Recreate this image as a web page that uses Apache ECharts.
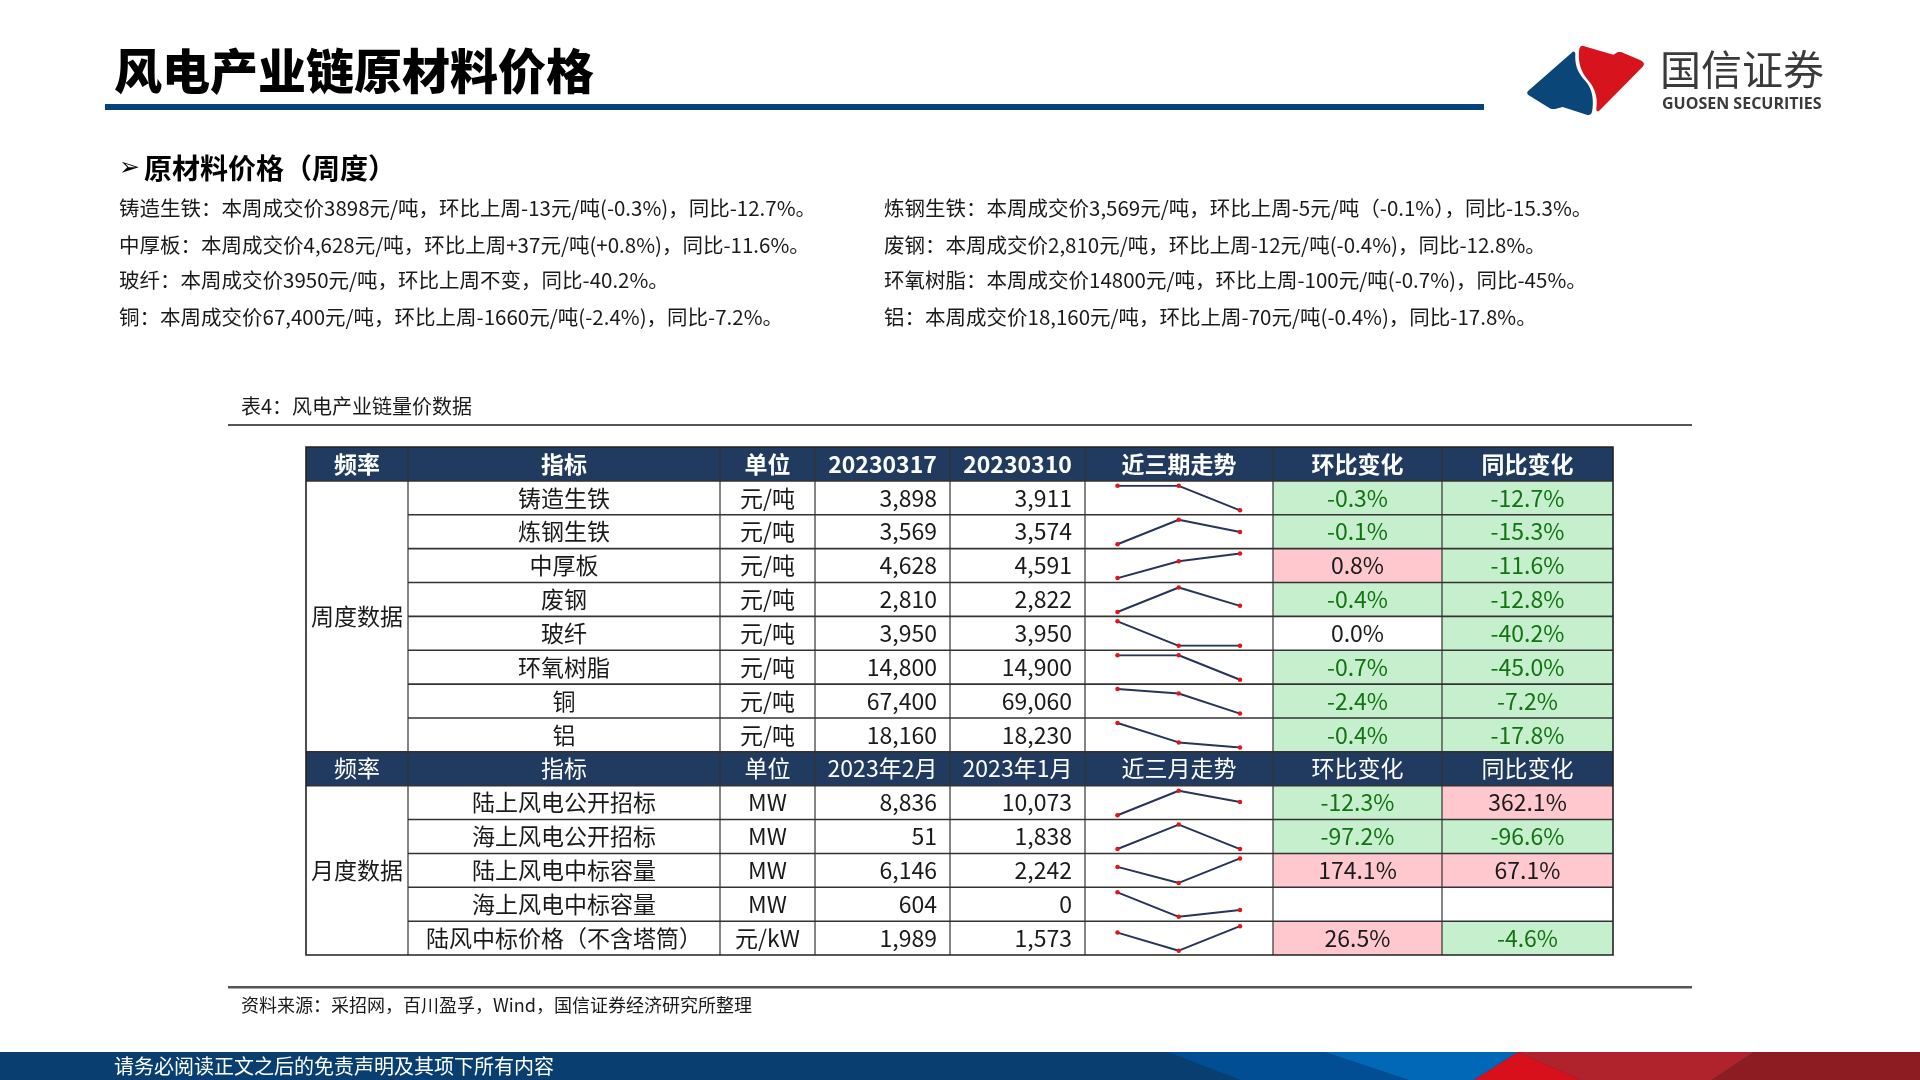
<!DOCTYPE html>
<html><head><meta charset="utf-8">
<script src="https://cdn.jsdelivr.net/npm/echarts@6/dist/echarts.min.js"></script>
<style>html,body{margin:0;padding:0;background:#fff}#c{width:1920px;height:1080px}</style>
</head><body><div id="c"></div>
<script>
// ---------- DATA ----------
const pageTitle = '风电产业链原材料价格';
const sectionTitle = '原材料价格（周度）';
const leftNotes = [
  '铸造生铁：本周成交价3898元/吨，环比上周-13元/吨(-0.3%)，同比-12.7%。',
  '中厚板：本周成交价4,628元/吨，环比上周+37元/吨(+0.8%)，同比-11.6%。',
  '玻纤：本周成交价3950元/吨，环比上周不变，同比-40.2%。',
  '铜：本周成交价67,400元/吨，环比上周-1660元/吨(-2.4%)，同比-7.2%。'
];
const rightNotes = [
  '炼钢生铁：本周成交价3,569元/吨，环比上周-5元/吨（-0.1%），同比-15.3%。',
  '废钢：本周成交价2,810元/吨，环比上周-12元/吨(-0.4%)，同比-12.8%。',
  '环氧树脂：本周成交价14800元/吨，环比上周-100元/吨(-0.7%)，同比-45%。',
  '铝：本周成交价18,160元/吨，环比上周-70元/吨(-0.4%)，同比-17.8%。'
];
const tableCaption = '表4：风电产业链量价数据';
const sourceNote = '资料来源：采招网，百川盈孚，Wind，国信证券经济研究所整理';
const footerNote = '请务必阅读正文之后的免责声明及其项下所有内容';

const weeklyHeader = ['频率', '指标', '单位', '20230317', '20230310', '近三期走势', '环比变化', '同比变化'];
const weeklyGroup = '周度数据';
const weeklyNames = ['铸造生铁', '炼钢生铁', '中厚板', '废钢', '玻纤', '环氧树脂', '铜', '铝'];
const weeklyUnits = ['元/吨', '元/吨', '元/吨', '元/吨', '元/吨', '元/吨', '元/吨', '元/吨'];
const weeklyCur = [3898, 3569, 4628, 2810, 3950, 14800, 67400, 18160];
const weeklyPrev = [3911, 3574, 4591, 2822, 3950, 14900, 69060, 18230];
const weeklyTrend = [
  [3911, 3911, 3898], [3564, 3574, 3569], [4510, 4591, 4628], [2806, 2822, 2810],
  [4000, 3950, 3950], [14900, 14900, 14800], [69430, 69060, 67400], [18500, 18230, 18160]
];
const weeklyMoM = [-0.3, -0.1, 0.8, -0.4, 0.0, -0.7, -2.4, -0.4];
const weeklyYoY = [-12.7, -15.3, -11.6, -12.8, -40.2, -45.0, -7.2, -17.8];

const monthlyHeader = ['频率', '指标', '单位', '2023年2月', '2023年1月', '近三月走势', '环比变化', '同比变化'];
const monthlyGroup = '月度数据';
const monthlyNames = ['陆上风电公开招标', '海上风电公开招标', '陆上风电中标容量', '海上风电中标容量', '陆风中标价格（不含塔筒）'];
const monthlyUnits = ['MW', 'MW', 'MW', 'MW', '元/kW'];
const monthlyCur = [8836, 51, 6146, 604, 1989];
const monthlyPrev = [10073, 1838, 2242, 0, 1573];
const monthlyTrend = [[7400, 10073, 8836], [60, 1838, 51], [4800, 2242, 6146], [2200, 0, 604], [1880, 1573, 1989]];
const monthlyMoM = [-12.3, -97.2, 174.1, null, 26.5];
const monthlyYoY = [362.1, -96.6, 67.1, null, -4.6];

// ---------- LAYOUT ----------
const FONT = '"Noto Sans CJK SC", sans-serif';
const colX = [306, 408, 720, 815, 950, 1085, 1273, 1442, 1613];
const top0 = 447, rh = 33.87, nRows = 15;
const NAVY = '#213a5f', GREEN_BG = '#c6efce', GREEN_TX = '#137313', RED_BG = '#ffc7ce';

const g = [];
function T(x, y, s, o) {
  o = o || {};
  g.push({type: 'text', x: x, y: y, z: 10, silent: true, style: {
    text: s, fill: o.fill || '#1a1a1a', fontSize: o.size || 23, fontWeight: o.weight || 'normal',
    fontFamily: o.family || FONT, align: o.align || 'left', textAlign: o.align || 'left',
    verticalAlign: 'middle', textVerticalAlign: 'middle'}});
}
function R(x, y, w, h, fill, z) {
  g.push({type: 'rect', z: z || 1, silent: true, shape: {x: x, y: y, width: w, height: h}, style: {fill: fill}});
}
function L(x1, y1, x2, y2, c, w, z) {
  g.push({type: 'line', z: z || 5, silent: true, shape: {x1: x1, y1: y1, x2: x2, y2: y2}, style: {stroke: c, lineWidth: w}});
}
function P(pts, fill, z) {
  g.push({type: 'polygon', z: z || 1, silent: true, shape: {points: pts}, style: {fill: fill}});
}
// outline sampler for the logo (M/L/Q/C commands), scaled into page coords
function outline(cmds, ox, oy, s) {
  const pts = [];
  let cx = 0, cy = 0;
  cmds.forEach(c => {
    const t = c[0], a = c.slice(1);
    if (t === 'M' || t === 'L') { cx = a[0]; cy = a[1]; pts.push([cx, cy]); }
    else if (t === 'Q') {
      for (let k = 1; k <= 8; k++) { const u = k / 8, v = 1 - u;
        pts.push([v*v*cx + 2*v*u*a[0] + u*u*a[2], v*v*cy + 2*v*u*a[1] + u*u*a[3]]); }
      cx = a[2]; cy = a[3];
    } else if (t === 'C') {
      for (let k = 1; k <= 14; k++) { const u = k / 14, v = 1 - u;
        pts.push([v*v*v*cx + 3*v*v*u*a[0] + 3*v*u*u*a[2] + u*u*u*a[4], v*v*v*cy + 3*v*v*u*a[1] + 3*v*u*u*a[3] + u*u*u*a[5]]); }
      cx = a[4]; cy = a[5];
    }
  });
  return pts.map(p => [ox + p[0] * s, oy + p[1] * s]);
}

// Title
T(114, 71, pageTitle, {size: 48, weight: 900, fill: '#000'});
R(105, 104, 1379, 6, '#05427a');
// Logo
P(outline([['M',25,165],['Q',18,158,25,152],['L',155,38],['Q',165,30,166,42],['C',164,80,175,100,198,125],
  ['C',218,148,222,185,216,215],['Q',213,228,200,224],['L',128,201],['L',108,206],['Q',98,209,88,204]], 1520, 40, 1/3), '#0b4679', 2);
P(outline([['M',190,18],['L',280,44],['L',290,38],['Q',296,34,305,37],['L',360,60],['Q',378,68,368,80],['L',240,210],
  ['Q',228,220,229,205],['C',233,180,228,150,208,125],['C',186,100,174,75,177,35],['Q',178,15,190,18]], 1520, 40, 1/3), '#d7141e', 2);
T(1660, 69, '国信证券', {size: 41, fill: '#3a3a3a'});
T(1662, 104, 'GUOSEN SECURITIES', {size: 16, weight: 'bold', fill: '#3a3a3a', family: '"Open Sans", sans-serif'});

// Section
T(119, 168, '➢', {size: 25, family: '"DejaVu Sans", sans-serif', fill: '#000'});
T(144, 168, sectionTitle, {size: 28, weight: 'bold', fill: '#000'});
const noteY = [208, 245, 280.5, 317];
leftNotes.forEach((s, i) => T(119, noteY[i], s, {size: 20.5}));
rightNotes.forEach((s, i) => T(884, noteY[i], s, {size: 20.5}));

// Caption
T(241, 406.5, tableCaption, {size: 20});
R(228, 424, 1464, 2, '#555');

// ---------- TABLE ----------
const rowTop = r => top0 + r * rh;
const rowMid = r => top0 + (r + 0.5) * rh;
const tblW = colX[8] - colX[0];
[0, 9].forEach(r => R(colX[0], rowTop(r), tblW, rh, NAVY));
function pctCell(c, r, v) {
  if (v === null || v === undefined) return;
  const fill = v < 0 ? GREEN_BG : (v > 0 ? RED_BG : null);
  if (fill) R(colX[c], rowTop(r), colX[c + 1] - colX[c], rh, fill);
  T((colX[c] + colX[c + 1]) / 2, rowMid(r), v.toFixed(1) + '%', {align: 'center', fill: v < 0 ? GREEN_TX : '#1a1a1a'});
}
function headerRow(r, labels, bold) {
  labels.forEach((s, c) => T((colX[c] + colX[c + 1]) / 2, rowMid(r), s, {align: 'center', fill: '#fff', weight: bold ? 'bold' : 'normal'}));
}
function dataRows(r0, names, units, cur, prev, mom, yoy) {
  names.forEach((n, i) => {
    const r = r0 + i;
    T((colX[1] + colX[2]) / 2, rowMid(r), n, {align: 'center'});
    T((colX[2] + colX[3]) / 2, rowMid(r), units[i], {align: 'center'});
    T(colX[4] - 13, rowMid(r), cur[i].toLocaleString('en-US'), {align: 'right'});
    T(colX[5] - 13, rowMid(r), prev[i].toLocaleString('en-US'), {align: 'right'});
    pctCell(6, r, mom[i]);
    pctCell(7, r, yoy[i]);
  });
}
headerRow(0, weeklyHeader, true);
headerRow(9, monthlyHeader, false);
dataRows(1, weeklyNames, weeklyUnits, weeklyCur, weeklyPrev, weeklyMoM, weeklyYoY);
dataRows(10, monthlyNames, monthlyUnits, monthlyCur, monthlyPrev, monthlyMoM, monthlyYoY);
T((colX[0] + colX[1]) / 2, (rowTop(1) + rowTop(9)) / 2, weeklyGroup, {align: 'center'});
T((colX[0] + colX[1]) / 2, (rowTop(10) + rowTop(15)) / 2, monthlyGroup, {align: 'center'});

const LC = '#333';
for (let r = 1; r < nRows; r++) {
  const full = (r === 1 || r === 9 || r === 10);
  L(full ? colX[0] : colX[1], rowTop(r), colX[8], rowTop(r), LC, 1.6);
}
for (let c = 1; c < 8; c++) L(colX[c], top0, colX[c], rowTop(nRows), LC, 1.2);
g.push({type: 'rect', z: 6, silent: true, shape: {x: colX[0], y: top0, width: tblW, height: rh * nRows},
  style: {fill: 'none', stroke: '#222', lineWidth: 1.6}});

// Source
R(228, 986, 1464, 2.5, '#555');
T(241, 1005, sourceNote, {size: 18});

// Footer bar
R(0, 1052, 1920, 28, '#083f70');
P([[1168, 1052], [1325, 1052], [1409, 1080], [1241, 1080]], '#014e95');
P([[1325, 1052], [1518, 1052], [1474, 1080], [1409, 1080]], '#0068b6');
P([[1518, 1052], [1754, 1052], [1712, 1080], [1581, 1080]], '#b0232d');
P([[1518, 1052], [1581, 1080], [1474, 1080]], '#d7101c');
P([[1754, 1052], [1920, 1052], [1920, 1080], [1712, 1080]], '#8c1c21');
T(114, 1066, footerNote, {size: 20, fill: '#fff'});

// ---------- SPARKLINES ----------
const grids = [], xAxes = [], yAxes = [], series = [];
function spark(row, data) {
  const i = grids.length;
  grids.push({left: 1117.5, top: rowTop(row) + 5, width: 122.5, height: 24.5, containLabel: false});
  xAxes.push({type: 'category', gridIndex: i, data: ['t-2', 't-1', 't'], boundaryGap: false, show: false});
  yAxes.push({type: 'value', gridIndex: i, min: 'dataMin', max: 'dataMax', show: false, scale: true});
  series.push({type: 'line', xAxisIndex: i, yAxisIndex: i, data: data, z: 8, silent: true,
    symbol: 'circle', symbolSize: 4.5, showSymbol: true,
    lineStyle: {color: '#27355a', width: 2}, itemStyle: {color: '#e3121b', borderWidth: 0}});
}
weeklyTrend.forEach((d, i) => spark(1 + i, d));
monthlyTrend.forEach((d, i) => spark(10 + i, d));

const chart = echarts.init(document.getElementById('c'), null, {renderer: 'canvas', width: 1920, height: 1080});
chart.setOption({
  animation: false,
  backgroundColor: '#fff',
  grid: grids, xAxis: xAxes, yAxis: yAxes, series: series,
  graphic: {elements: g}
});
</script>
</body></html>
